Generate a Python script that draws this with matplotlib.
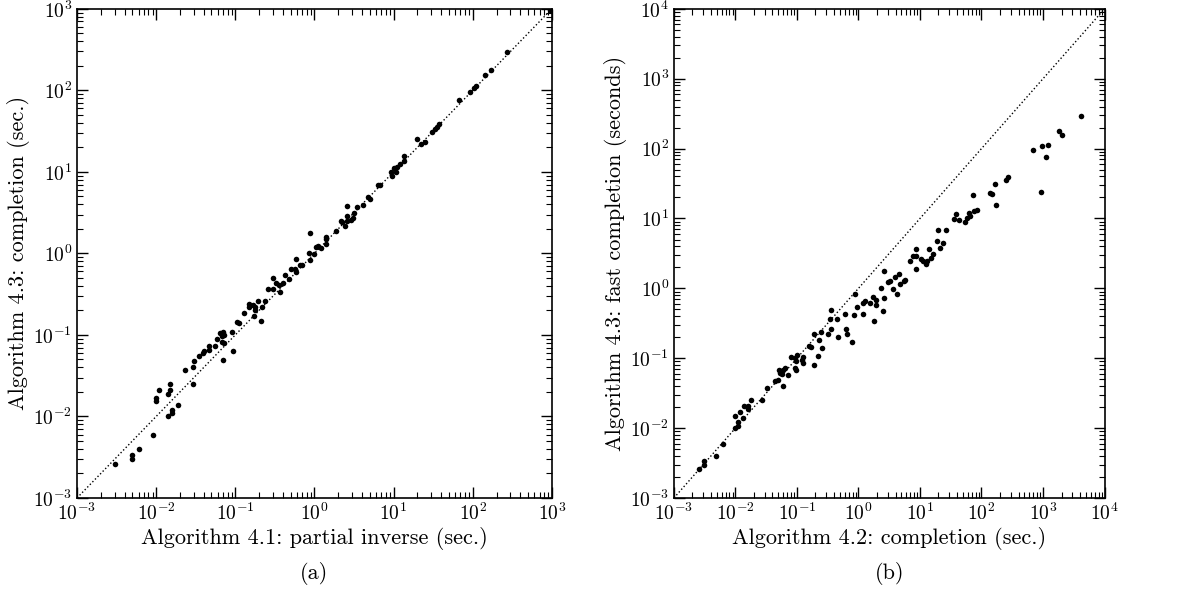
import numpy as np
import matplotlib
matplotlib.use("Agg")
from matplotlib import pyplot as plt

plt.rcParams['font.family'] = 'serif'
plt.rcParams['font.serif'] = ['cmr10', 'DejaVu Serif']
plt.rcParams['mathtext.fontset'] = 'cm'
plt.rcParams['axes.formatter.use_mathtext'] = True

# (a) partial inverse vs completion
partial_inverse = [950, 275, 170, 145, 110, 105, 92, 68, 38, 35, 33, 31, 25, 22, 19.5,
                   13.5, 13.5, 12, 11, 10, 10.8, 9.2, 9.5, 6.4, 6.7, 5.0, 4.7, 4.1, 3.5,
                   3.2, 3.1, 2.9, 2.6, 2.6, 2.6, 2.4, 2.2, 2.15, 1.9, 1.42, 1.4, 1.4, 1.2,
                   1.1, 1.05, 0.98, 0.89, 0.85, 0.87, 0.69, 0.65, 0.58, 0.58, 0.56, 0.51,
                   0.48, 0.43, 0.40, 0.36, 0.33, 0.30, 0.37, 0.30, 0.26,
                   0.24, 0.22, 0.195, 0.18, 0.175, 0.17, 0.166, 0.15, 0.15, 0.21, 0.127,
                   0.11, 0.105, 0.091, 0.093, 0.070, 0.072, 0.065, 0.067, 0.059, 0.067,
                   0.072, 0.070, 0.055, 0.047, 0.047, 0.040, 0.039, 0.035, 0.030, 0.029,
                   0.029, 0.023, 0.019, 0.016, 0.016, 0.015, 0.015, 0.014, 0.014, 0.011,
                   0.010, 0.010, 0.009, 0.006, 0.005, 0.005, 0.003]
completion_a = [980, 295, 180, 155, 112, 107, 95, 76, 39, 36, 34, 31, 23, 22, 25,
                15.5, 13.5, 12.5, 11.5, 11.3, 10, 10, 9, 6.9, 6.9, 4.6, 4.9, 3.9, 3.7,
                3.1, 2.7, 2.6, 3.8, 2.9, 2.5, 2.15, 2.4, 2.5, 1.9, 1.6, 1.5, 1.3, 1.15,
                1.25, 1.2, 0.97, 0.82, 1.0, 1.78, 0.73, 0.72, 0.86, 0.59, 0.65, 0.64,
                0.49, 0.55, 0.43, 0.41, 0.43, 0.50, 0.34, 0.37, 0.37,
                0.26, 0.22, 0.26, 0.22, 0.20, 0.17, 0.23, 0.24, 0.22, 0.148, 0.185,
                0.14, 0.145, 0.11, 0.064, 0.11, 0.10, 0.105, 0.098, 0.088, 0.083,
                0.079, 0.049, 0.074, 0.073, 0.066, 0.063, 0.060, 0.055, 0.048, 0.040,
                0.025, 0.037, 0.014, 0.012, 0.011, 0.025, 0.021, 0.019, 0.010, 0.021,
                0.017, 0.0155, 0.006, 0.004, 0.0034, 0.0030, 0.0026]

# (b) completion vs fast completion
completion_b = [4100, 1800, 2050, 1200, 950, 690, 1100, 920, 265, 250, 165, 175, 138,
                150, 72, 83, 76, 62, 65, 58, 54, 38, 36, 43, 26, 20, 23.5, 19, 21.5,
                16, 15, 14, 13.2, 12.7, 11.3, 10.5, 8.7, 8.7, 7.7, 7.0, 8.7, 5.8, 5.5,
                4.7, 4.5, 3.9, 4.3, 3.6, 3.2, 3.0, 2.6, 2.3, 2.6, 0.87,
                1.74, 1.9, 1.9, 1.56, 2.55, 1.78, 1.26, 1.2, 1.2, 0.93, 0.85, 0.62,
                0.64, 0.78, 0.60, 0.45, 0.47, 0.36, 0.35, 0.36, 0.32, 0.26, 0.25, 0.23,
                0.22, 0.186, 0.19, 0.155, 0.167, 0.126, 0.12, 0.126, 0.102, 0.094,
                0.097, 0.092, 0.097, 0.079, 0.072, 0.063, 0.059, 0.058, 0.059, 0.052,
                0.053, 0.049, 0.044, 0.032, 0.027, 0.018, 0.016, 0.014, 0.016, 0.0133,
                0.012, 0.010, 0.011, 0.011, 0.010, 0.0063, 0.0049, 0.0031, 0.0031, 0.0026]
fast_completion = [290, 180, 158, 113, 110, 95, 76, 24, 39, 36, 31, 15.5, 23.5,
                   22.5, 22, 13.3, 12.8, 12, 11, 10.3, 8.9, 11.5, 9.9, 9.6, 6.8, 6.8, 4.5,
                   4.7, 3.8, 3.1, 2.7, 3.6, 2.5, 2.2, 2.5, 2.6, 3.7, 2.9, 2.9, 2.5, 1.9,
                   1.3, 1.28, 1.15, 1.6, 1.45, 0.82, 0.97, 1.27, 1.25, 1.75, 1.0, 0.72, 0.84,
                   0.74, 0.69, 0.58, 0.62, 0.48, 0.34, 0.65, 0.61, 0.43, 0.54, 0.41, 0.26,
                   0.22, 0.17, 0.43, 0.36, 0.20, 0.49, 0.36, 0.26, 0.22, 0.14, 0.24, 0.18,
                   0.108, 0.22, 0.08, 0.148, 0.143, 0.104, 0.093, 0.085, 0.11, 0.10,
                   0.09, 0.073, 0.067, 0.103, 0.057, 0.073, 0.068, 0.06, 0.040, 0.068,
                   0.062, 0.049, 0.047, 0.037, 0.025, 0.025, 0.021, 0.021, 0.019, 0.014,
                   0.017, 0.015, 0.0122, 0.0107, 0.0101, 0.006, 0.004, 0.0034, 0.0030, 0.0026]

panels = [
    (partial_inverse, completion_a, 1e3,
     'Algorithm 4.1: partial inverse (sec.)', 'Algorithm 4.3: completion (sec.)', '(a)'),
    (completion_b, fast_completion, 1e4,
     'Algorithm 4.2: completion (sec.)', 'Algorithm 4.3: fast completion (seconds)', '(b)'),
]
rects = [[0.0644, 0.156, 0.397, 0.829], [0.5635, 0.156, 0.360, 0.829]]

fig = plt.figure(figsize=(11.96, 5.9), dpi=100)
for rect, (x, y, top, xlabel, ylabel, tag) in zip(rects, panels):
    ax = fig.add_axes(rect)
    ax.plot([1e-3, top], [1e-3, top], ':', color='k', lw=1)
    ax.plot(x, y, 'o', color='k', markersize=4, markeredgewidth=0)
    ax.set_xscale('log')
    ax.set_yscale('log')
    ax.set_xlim(1e-3, top)
    ax.set_ylim(1e-3, top)
    ax.set_xlabel(xlabel, fontsize=16, labelpad=2)
    ax.set_ylabel(ylabel, fontsize=16, labelpad=2)
    ax.tick_params(which='both', direction='in', top=True, right=True, labelsize=14)
    ax.tick_params(which='major', length=8, width=1)
    ax.tick_params(which='minor', length=4, width=0.8)
    for s in ax.spines.values():
        s.set_linewidth(1.2)
    bb = ax.get_position()
    fig.text(bb.x0 + bb.width / 2, 0.028, tag, ha='center', va='center', fontsize=16)

fig.savefig('out.png', dpi=100)
